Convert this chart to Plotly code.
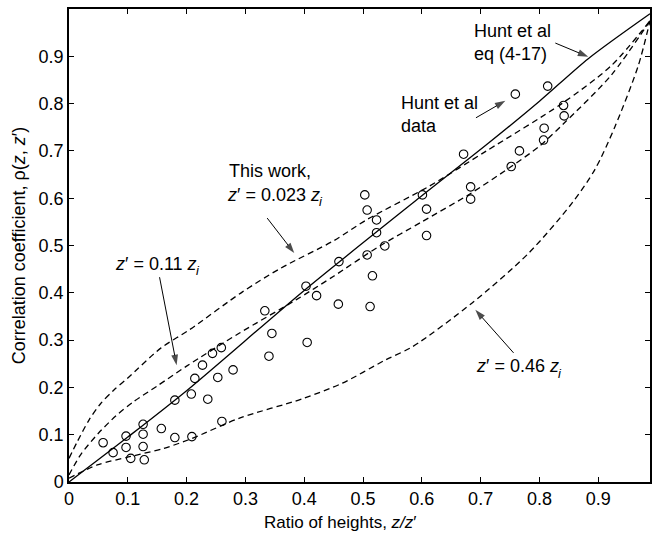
import plotly.graph_objects as go

# ---- data ----
x_ticks = [0, 0.1, 0.2, 0.3, 0.4, 0.5, 0.6, 0.7, 0.8, 0.9]
x_tick_labels = ["0", "0.1", "0.2", "0.3", "0.4", "0.5", "0.6", "0.7", "0.8", "0.9"]
y_ticks = [0, 0.1, 0.2, 0.3, 0.4, 0.5, 0.6, 0.7, 0.8, 0.9, 1]
y_tick_labels = ["0", "0.1", "0.2", "0.3", "0.4", "0.5", "0.6", "0.7", "0.8", "0.9", "1"]

# Hunt et al data (circles)
hunt_x = [0.058, 0.075, 0.097, 0.097, 0.105, 0.126, 0.126, 0.126, 0.128, 0.157,
          0.180, 0.180, 0.208, 0.209, 0.214, 0.236, 0.227, 0.244, 0.259, 0.253,
          0.279, 0.260, 0.333, 0.345, 0.340, 0.403, 0.421, 0.405, 0.459, 0.458,
          0.503, 0.507, 0.523, 0.523, 0.507, 0.537, 0.516, 0.512, 0.601, 0.608,
          0.608, 0.671, 0.683, 0.683, 0.752, 0.766, 0.759, 0.814, 0.841, 0.842,
          0.808, 0.807]
hunt_y = [0.083, 0.062, 0.097, 0.073, 0.050, 0.122, 0.101, 0.075, 0.047, 0.113,
          0.173, 0.094, 0.186, 0.096, 0.219, 0.175, 0.247, 0.272, 0.284, 0.221,
          0.237, 0.128, 0.362, 0.314, 0.266, 0.414, 0.394, 0.295, 0.466, 0.376,
          0.607, 0.575, 0.554, 0.527, 0.480, 0.499, 0.436, 0.371, 0.607, 0.577,
          0.521, 0.693, 0.624, 0.598, 0.667, 0.700, 0.820, 0.837, 0.796, 0.774,
          0.748, 0.723]

# Hunt et al eq (4-17) (solid)
eq_x = [0, 0.1, 0.2, 0.4, 0.6, 0.714, 0.8, 0.883, 0.988]
eq_y = [0, 0.095, 0.193, 0.405, 0.605, 0.717, 0.805, 0.895, 0.99]

# This work, z' = 0.023 zi
w023_x = [0, 0.014, 0.034, 0.054, 0.076, 0.1, 0.156, 0.205, 0.295, 0.36, 0.45,
          0.507, 0.612, 0.71, 0.838, 0.922, 0.988]
w023_y = [0.05, 0.085, 0.131, 0.166, 0.194, 0.22, 0.283, 0.322, 0.402, 0.452, 0.51,
          0.555, 0.625, 0.70, 0.80, 0.88, 0.975]

# z' = 0.11 zi
w011_x = [0, 0.02, 0.05, 0.08, 0.11, 0.15, 0.2, 0.29, 0.386, 0.45, 0.527, 0.6,
          0.683, 0.752, 0.8, 0.843, 0.922, 0.988]
w011_y = [0.015, 0.058, 0.103, 0.14, 0.17, 0.203, 0.245, 0.315, 0.385, 0.435, 0.498,
          0.55, 0.61, 0.667, 0.71, 0.76, 0.86, 0.975]

# z' = 0.46 zi
w046_x = [0, 0.048, 0.105, 0.161, 0.209, 0.29, 0.397, 0.465, 0.538, 0.584, 0.685,
          0.781, 0.855, 0.894, 0.928, 0.968, 0.988]
w046_y = [0.008, 0.036, 0.054, 0.071, 0.092, 0.135, 0.176, 0.209, 0.258, 0.286, 0.378,
          0.483, 0.589, 0.66, 0.75, 0.88, 0.975]

# plain labels (left edge, vertical middle)
plain_text = ["Hunt et al<br>eq (4-17)", "Hunt et al<br>data", "This work,"]
plain_x = [0.685, 0.561, 0.268]
plain_y = [0.930, 0.776, 0.657]

# height labels "z' = ... z" (right edge) followed by subscript i
zlabel_text = ["<i>z</i>′ = 0.023 <i>z</i>", "<i>z</i>′ = 0.11 <i>z</i>",
               "<i>z</i>′ = 0.46 <i>z</i>"]
zlabel_x = [0.4237, 0.2136, 0.8305]
zlabel_y = [0.607, 0.461, 0.245]
sub_text = "i"

# arrows (tail -> tip)
arrow_tail_x = [0.827, 0.692, 0.337, 0.154, 0.756]
arrow_tail_y = [0.928, 0.770, 0.558, 0.433, 0.273]
arrow_tip_x = [0.883, 0.742, 0.383, 0.183, 0.691]
arrow_tip_y = [0.899, 0.806, 0.484, 0.247, 0.364]

x_title = "Ratio of heights, <i>z/z</i>′"
y_title = "Correlation coefficient, ρ(<i>z</i>, <i>z</i>′)"

FONT = "Liberation Sans, Arial, Helvetica, sans-serif"
DASH = "6px,4px"

fig = go.Figure()

for xs, ys in [(w023_x, w023_y), (w011_x, w011_y), (w046_x, w046_y)]:
    fig.add_trace(go.Scatter(x=xs, y=ys, mode="lines",
                             line=dict(color="black", width=1.3, dash=DASH,
                                       shape="spline", smoothing=0.8),
                             showlegend=False, hoverinfo="skip"))

fig.add_trace(go.Scatter(x=eq_x, y=eq_y, mode="lines",
                         line=dict(color="black", width=1.3, shape="spline", smoothing=0.8),
                         showlegend=False, hoverinfo="skip"))

fig.add_trace(go.Scatter(x=hunt_x, y=hunt_y, mode="markers",
                         marker=dict(symbol="circle-open", size=8.5,
                                     color="black", line=dict(width=1.1, color="black")),
                         showlegend=False))

# arrows as line + arrowhead markers
for tx, ty, hx, hy in zip(arrow_tail_x, arrow_tail_y, arrow_tip_x, arrow_tip_y):
    fig.add_trace(go.Scatter(x=[tx, hx], y=[ty, hy], mode="lines+markers",
                             line=dict(color="black", width=1),
                             marker=dict(symbol=["circle", "arrow"], size=[0, 11],
                                         angleref="previous", color="black",
                                         line=dict(width=0)),
                             showlegend=False, hoverinfo="skip"))

for t, x, y in zip(plain_text, plain_x, plain_y):
    fig.add_annotation(x=x, y=y, text=t, showarrow=False,
                       xanchor="left", yanchor="middle", align="left",
                       font=dict(family=FONT, size=18, color="black"))

for t, x, y in zip(zlabel_text, zlabel_x, zlabel_y):
    fig.add_annotation(x=x, y=y, text=t, showarrow=False,
                       xanchor="right", yanchor="middle", xshift=4,
                       font=dict(family=FONT, size=18, color="black"))
    fig.add_annotation(x=x, y=y, text="<i>" + sub_text + "</i>", showarrow=False,
                       xanchor="left", yanchor="middle", xshift=-1, yshift=-7,
                       font=dict(family=FONT, size=13, color="black"))

# x-axis title (slightly left of centre, as in the original)
fig.add_annotation(xref="paper", yref="paper", x=0.468, y=-0.062,
                   text=x_title, showarrow=False, xanchor="center", yanchor="top",
                   font=dict(family=FONT, size=17, color="black"))

axis_common = dict(showgrid=False, zeroline=False, showline=True, linecolor="black",
                   linewidth=1.5, mirror="ticks", ticks="inside", ticklen=5,
                   tickwidth=1, tickcolor="black",
                   tickfont=dict(family=FONT, size=18, color="black"))

fig.update_xaxes(range=[0, 0.988], tickvals=x_ticks, ticktext=x_tick_labels, **axis_common)
fig.update_yaxes(range=[0, 1], tickvals=y_ticks, ticktext=y_tick_labels,
                 title=dict(text=y_title, font=dict(family=FONT, size=18, color="black"),
                            standoff=8),
                 **axis_common)

fig.update_layout(width=653, height=534, margin=dict(l=69, r=1, t=9, b=52),
                  paper_bgcolor="white", plot_bgcolor="white",
                  font=dict(family=FONT, color="black"), showlegend=False)

fig.write_html("out.html")
